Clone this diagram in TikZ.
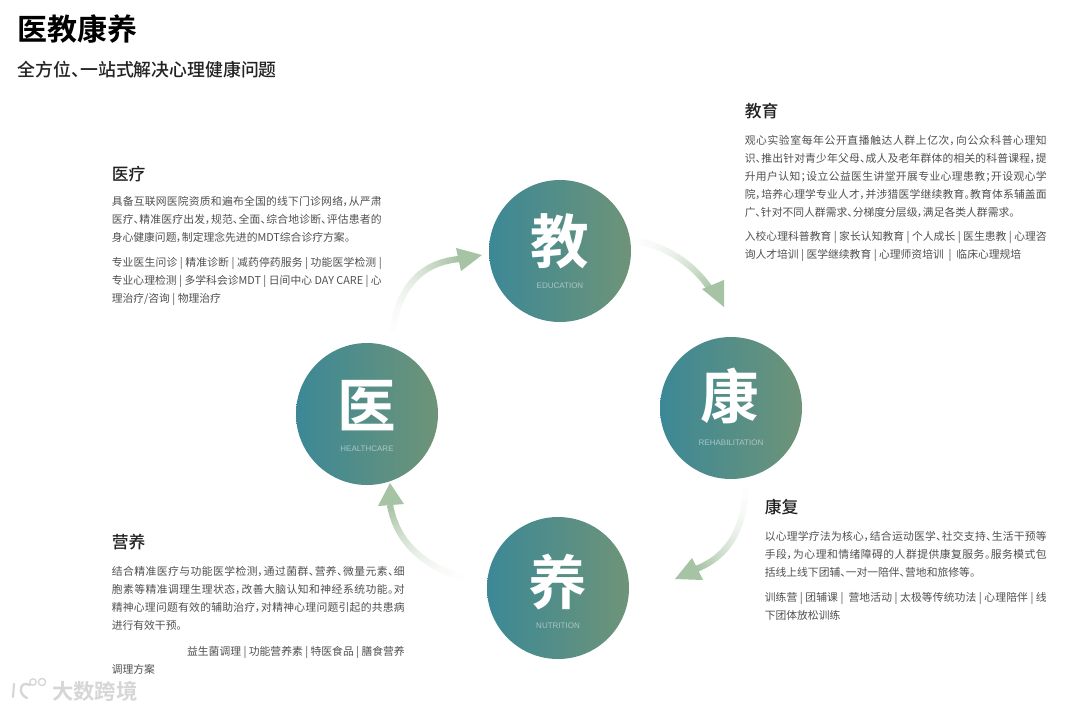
\documentclass[tikz,border=0pt]{standalone}
\usepackage{fontspec}
\setmainfont[RawFeature={+palt},BoldFont={Noto Sans CJK SC Bold}]{Noto Sans CJK SC}
\newfontfamily\medf[RawFeature={+palt}]{Noto Sans CJK SC Medium}
\newfontfamily\boldf[RawFeature={+palt}]{Noto Sans CJK SC Bold}
\newfontfamily\latf{Liberation Sans}
\usetikzlibrary{calc}
\definecolor{circL}{HTML}{3C8896}
\definecolor{circR}{HTML}{6E9478}
\definecolor{arrowC}{HTML}{A6C3A3}
\definecolor{bodyC}{HTML}{505050}
\definecolor{headC}{HTML}{222222}
\definecolor{markC}{HTML}{D6D6D6}
\newXeTeXintercharclass\cjkcls
\newcount\cjkcnt
\cjkcnt="4E00
\loop\ifnum\cjkcnt<"A000
  \XeTeXcharclass\cjkcnt=\cjkcls
  \advance\cjkcnt by 1
\repeat
\XeTeXcharclass"FF0C=\cjkcls
\XeTeXcharclass"3002=\cjkcls
\XeTeXcharclass"3001=\cjkcls
\XeTeXcharclass"FF1B=\cjkcls
\newskip\cjkglue \cjkglue=0pt plus 1pt
\XeTeXinterchartoks\cjkcls\cjkcls={\hskip\cjkglue}
\XeTeXinterchartoks\cjkcls 0={\hskip\cjkglue}
\XeTeXinterchartoks 0\cjkcls={\hskip\cjkglue}
\XeTeXinterchartokenstate=1
\tikzset{
  x=0.75pt,y=-0.75pt,
  bigcirc/.style={circle,minimum size=106.5pt,inner sep=0pt,left color=circL,right color=circR,shading angle=90},
  bigchar/.style={inner sep=0pt,text=white,font=\boldf\fontsize{44}{44}\selectfont},
  engl/.style={inner sep=0pt,text=white,opacity=.5,font=\latf\fontsize{6}{6}\selectfont},
  headt/.style={anchor=west,inner sep=0pt,text=headC,font=\medf\fontsize{12.6}{14}\selectfont},
  bodyt/.style={anchor=west,inner sep=0pt,align=left,text=bodyC,font=\fontsize{8.1}{13.5}\selectfont},
  arrowhd/.style={fill=arrowC,draw=none},
}
\newlength{\linew}
\newcommand{\JL}[1]{\makebox[\linew][s]{#1}}
% fading arrow: start, control, end of the shaft as named coordinates
\newcommand{\fadeshaft}[3]{%
  \foreach \i in {0,...,47}{%
    \pgfmathsetmacro{\ta}{\i/48}%
    \pgfmathsetmacro{\tb}{min(1,(\i+1.3)/48)}%
    \pgfmathtruncatemacro{\tn}{min(100,3+97*(\i/47)^1.7)}%
    \draw[line width=4.6pt,line cap=butt,color=arrowC!\tn!white]
      ($($(#1)!\ta!(#2)$)!\ta!($(#2)!\ta!(#3)$)$) --
      ($($(#1)!\tb!(#2)$)!\tb!($(#2)!\tb!(#3)$)$);
  }%
}
\begin{document}
\begin{tikzpicture}
\useasboundingbox (0,0) rectangle (1080,711);
\fill[white] (0,0) rectangle (1080,711);

% title
\node[anchor=west,inner sep=0pt,text=black,font=\boldf\fontsize{22.5}{24}\selectfont] (title) at (17.5,29) {医教康养};
\node[anchor=west,inner sep=0pt,text=headC,font=\medf\fontsize{13.4}{15}\selectfont] (subtitle) at (17.5,70) {全方位、一站式解决心理健康问题};

% circles
\node[bigcirc] (jiao) at (560,251) {};
\node[bigcirc] (kang) at (731,408) {};
\node[bigcirc] (yang) at (558,588) {};
\node[bigcirc] (yi) at (367,414) {};
\node[bigchar] (jiaoc) at (560,241) {教};
\node[bigchar] (kangc) at (730,396) {康};
\node[bigchar] (yangc) at (558,582) {养};
\node[bigchar] (yic) at (367,406) {医};
\node[engl] (jiaoe) at (560,286) {EDUCATION};
\node[engl] (kange) at (731,443) {REHABILITATION};
\node[engl] (yange) at (558,626) {NUTRITION};
\node[engl] (yie) at (367,449) {HEALTHCARE};

% arrows
\coordinate (a1) at (392,333); \coordinate (a2) at (401.5,264.5); \coordinate (a3) at (459,259);
\coordinate (b1) at (633,240); \coordinate (b2) at (685.5,250); \coordinate (b3) at (713,293);
\coordinate (c1) at (746,488); \coordinate (c2) at (743,551); \coordinate (c3) at (696,569);
\coordinate (d1) at (463,578); \coordinate (d2) at (399.5,558); \coordinate (d3) at (390,505);
\fadeshaft{a1}{a2}{a3}
\fadeshaft{b1}{b2}{b3}
\fadeshaft{c1}{c2}{c3}
\fadeshaft{d1}{d2}{d3}
\coordinate (at) at (482,255); \coordinate (au) at (456,248); \coordinate (av) at (461,271);
\coordinate (bt) at (724,307); \coordinate (bu) at (702,289); \coordinate (bv) at (724,280);
\coordinate (ct) at (675,579); \coordinate (cu) at (692,558); \coordinate (cv) at (703,580);
\coordinate (dt) at (390,483); \coordinate (du) at (378,506); \coordinate (dv) at (404,504);
\fill[arrowhd] (at) -- (au) -- (av) -- cycle;
\fill[arrowhd] (bt) -- (bu) -- (bv) -- cycle;
\fill[arrowhd] (ct) -- (cu) -- (cv) -- cycle;
\fill[arrowhd] (dt) -- (du) -- (dv) -- cycle;

% yi liao
\setlength{\linew}{202.5pt}
\node[headt] (h1) at (111.5,174) {医疗};
\node[bodyt] (b1t) at (111.5,219) {\JL{具备互联网医院资质和遍布全国的线下门诊网络，从严肃}\\\JL{医疗、精准医疗出发，规范、全面、综合地诊断、评估患者的}\\身心健康问题，制定理念先进的MDT综合诊疗方案。};
\node[bodyt] (b1l) at (111.5,281) {\JL{专业医生问诊 | 精准诊断 | 减药停药服务 | 功能医学检测 |}\\\JL{专业心理检测 | 多学科会诊MDT | 日间中心 DAY CARE | 心}\\理治疗/咨询 | 物理治疗};

% jiao yu
\setlength{\linew}{226.5pt}
\node[headt] (h2) at (744.5,111) {教育};
\node[bodyt] (b2t) at (744.5,176) {\JL{观心实验室每年公开直播触达人群上亿次，向公众科普心理知}\\\JL{识、推出针对青少年父母、成人及老年群体的相关的科普课程，提}\\\JL{升用户认知；设立公益医生讲堂开展专业心理患教；开设观心学}\\\JL{院，培养心理学专业人才，并涉猎医学继续教育。教育体系辅盖面}\\广、针对不同人群需求、分梯度分层级，满足各类人群需求。};
\node[bodyt] (b2l) at (744.5,246) {\JL{入校心理科普教育 | 家长认知教育 | 个人成长 | 医生患教 | 心理咨}\\询人才培训 | 医学继续教育 | 心理师资培训 ~| ~临床心理规培};

% kang fu
\setlength{\linew}{211.5pt}
\node[headt] (h3) at (764.5,507) {康复};
\node[bodyt] (b3t) at (764.5,554) {\JL{以心理学疗法为核心，结合运动医学、社交支持、生活干预等}\\\JL{手段，为心理和情绪障碍的人群提供康复服务。服务模式包}\\括线上线下团辅、一对一陪伴、营地和旅修等。};
\node[bodyt] (b3l) at (764.5,606) {\JL{训练营 | 团辅课 | ~营地活动 | 太极等传统功法 | 心理陪伴 | 线}\\下团体放松训练};

% ying yang
\setlength{\linew}{219.75pt}
\node[headt] (h4) at (111.5,542) {营养};
\node[bodyt] (b4t) at (111.5,598) {\JL{结合精准医疗与功能医学检测，通过菌群、营养、微量元素、细}\\\JL{胞素等精准调理生理状态，改善大脑认知和神经系统功能。对}\\\JL{精神心理问题有效的辅助治疗，对精神心理问题引起的共患病}\\进行有效干预。};
\node[bodyt] (b4l) at (111.5,660) {\makebox[\linew][r]{益生菌调理 | 功能营养素 | 特医食品 | 膳食营养}\\调理方案};

% watermark
\node[anchor=west,inner sep=0pt,text=markC,font=\boldf\fontsize{16}{18}\selectfont] (mark) at (52,691) {大数跨境};
\draw[markC,line width=1.6pt,line cap=round] (14,684) -- (13,697);
\draw[markC,line width=1.8pt,line cap=round] (30,685) .. controls (20,680) and (17,694) .. (27,698);
\draw[markC,line width=1pt] (33,682) circle (3.2);
\draw[markC,line width=1pt] (42,682) circle (3.6);
\end{tikzpicture}
\end{document}
